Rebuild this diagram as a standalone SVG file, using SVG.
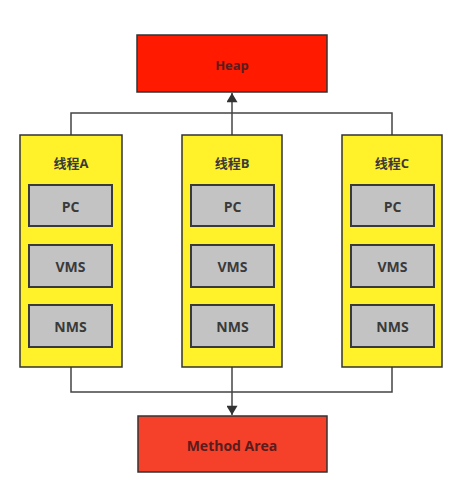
<svg xmlns="http://www.w3.org/2000/svg" width="464" height="485" viewBox="0 0 464 485">
<defs>
<marker id="arr" viewBox="0 0 10 12" refX="10" refY="6" markerWidth="12" markerHeight="11" markerUnits="userSpaceOnUse" orient="auto">
<path d="M0,0 L10,6 L0,12 z" fill="#333"/>
</marker>
<style>
.t{font-family:"Open Sans","Noto Sans CJK SC",sans-serif;font-weight:bold;text-anchor:middle;dominant-baseline:central;fill:#3a3a3a}
.thread{fill:#fff22a;stroke:#333;stroke-width:1.5}
.cell{fill:#c3c3c3;stroke:#3a3a3a;stroke-width:2}
.mem{stroke:#333;stroke-width:1.5}
.ln{fill:none;stroke:#444;stroke-width:1.5}
</style>
</defs>
<rect width="464" height="485" fill="#fff"/>
<g id="connectors">
<polyline class="ln" points="71,135 71,113 392,113 392,135"/>
<line class="ln" x1="232" y1="135" x2="232" y2="93" marker-end="url(#arr)"/>
<polyline class="ln" points="71,367 71,392 392,392 392,367"/>
<line class="ln" x1="232" y1="367" x2="232" y2="415" marker-end="url(#arr)"/>
</g>
<g id="heap">
<rect class="mem" x="137" y="35" width="190" height="57" fill="#ff1a00"/>
<text class="t" x="232" y="65" font-size="13" style="fill:#5a1c1c">Heap</text>
</g>
<g id="threadA">
<rect class="thread" x="20" y="135" width="102" height="232"/>
<text class="t" x="71" y="163" font-size="13">线程A</text>
<rect class="cell" x="29" y="185" width="83" height="41"/>
<text class="t" x="70.5" y="206" font-size="14">PC</text>
<rect class="cell" x="29" y="245" width="83" height="42"/>
<text class="t" x="70.5" y="266" font-size="14">VMS</text>
<rect class="cell" x="29" y="305" width="83" height="42"/>
<text class="t" x="70.5" y="326" font-size="14">NMS</text>
</g>
<g id="threadB">
<rect class="thread" x="182" y="135" width="100" height="232"/>
<text class="t" x="232" y="163" font-size="13">线程B</text>
<rect class="cell" x="191" y="185" width="83" height="41"/>
<text class="t" x="232.5" y="206" font-size="14">PC</text>
<rect class="cell" x="191" y="245" width="83" height="42"/>
<text class="t" x="232.5" y="266" font-size="14">VMS</text>
<rect class="cell" x="191" y="305" width="83" height="42"/>
<text class="t" x="232.5" y="326" font-size="14">NMS</text>
</g>
<g id="threadC">
<rect class="thread" x="342" y="135" width="100" height="232"/>
<text class="t" x="392" y="163" font-size="13">线程C</text>
<rect class="cell" x="351" y="185" width="83" height="41"/>
<text class="t" x="392.5" y="206" font-size="14">PC</text>
<rect class="cell" x="351" y="245" width="83" height="42"/>
<text class="t" x="392.5" y="266" font-size="14">VMS</text>
<rect class="cell" x="351" y="305" width="83" height="42"/>
<text class="t" x="392.5" y="326" font-size="14">NMS</text>
</g>
<g id="methodArea">
<rect class="mem" x="138" y="416" width="189" height="56" fill="#f5412a"/>
<text class="t" x="232" y="445" font-size="14" style="fill:#5a1c1c">Method Area</text>
</g>
</svg>
